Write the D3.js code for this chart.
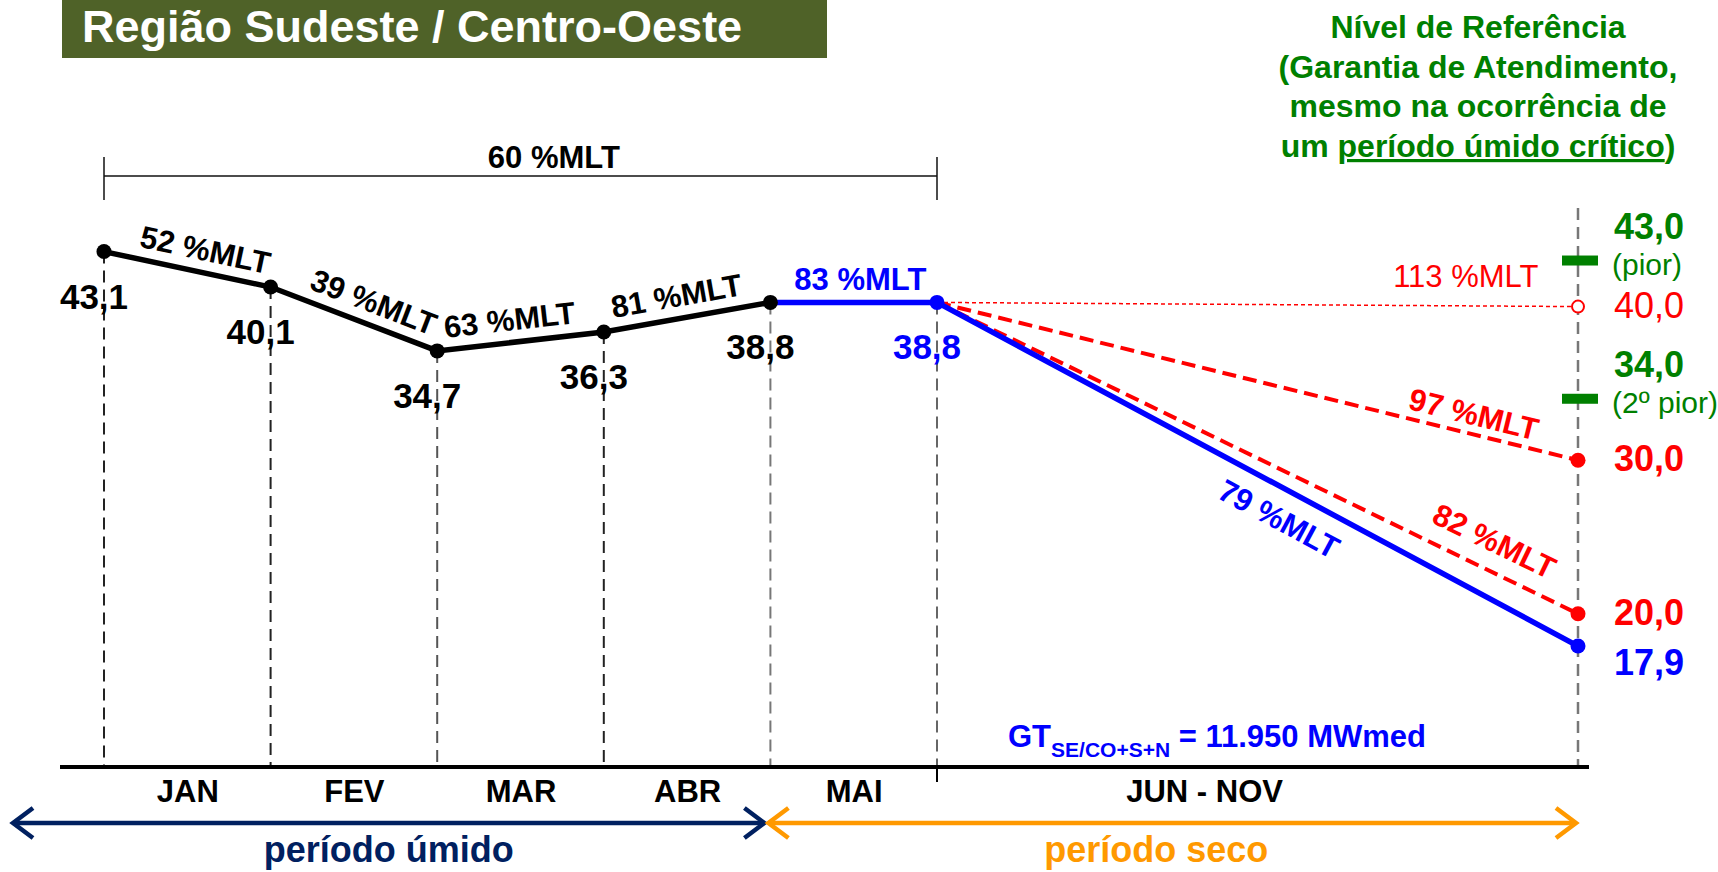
<!DOCTYPE html>
<html>
<head>
<meta charset="utf-8">
<script src="https://cdn.jsdelivr.net/npm/d3@7"></script>
<style>
  body { margin: 0; background: #fff; }
  svg { display: block; font-family: "Liberation Sans", Arial, sans-serif; }
</style>
</head>
<body>
<script>
// Armazenamento SE/CO (% EARmax)
const months = ["JAN", "FEV", "MAR", "ABR", "MAI", "JUN - NOV"];
const monthPos = [0.5, 1.5, 2.5, 3.5, 4.5, 7.5];   // where each month label sits
const boundary = [0, 1, 2, 3, 4, 5];                // month index: start JAN ... end MAI
const storage = [43.1, 40.1, 34.7, 36.3, 38.8, 38.8];
const segmentMLT = [52, 39, 63, 81, 83];            // inflow in each month
const periodMLT = 60;                               // JAN - MAI

const endIndex = 11;                                // end of NOV
const dryMLT = [113, 97, 82];
const dryEnd = [40.0, 30.0, 20.0];
const gtMLT = 79;
const gtEnd = 17.9;
const gtMW = 11950;

const refLevel = [43.0, 34.0];
const refName = ["(pior)", "(2º pior)"];

const W = 1718, H = 872;
const red = "#ff0000", blue = "#0000ff", green = "#008000", navy = "#002060", orange = "#ff9900";

const pt = d3.formatLocale({ decimal: ",", thousands: ".", grouping: [3], currency: ["R$", ""] });
const fmt1 = pt.format(".1f");
const fmtInt = pt.format(",");

const svg = d3.select("body")
    .append("svg")
    .attr("width", W)
    .attr("height", H);

// Scales (the original is a sketch: wet months and dry-season ends use their own vertical scale)
const x = d3.scaleLinear().domain([0, 5, endIndex]).range([104, 937, 1578]);
const yWet = d3.scaleLinear().domain([30, 45]).range([406.5, 229.1]);
const yDry = d3.scaleLinear().domain([15, 45]).range([690.6, 229.8]);
const axisY = 767;

const pts = storage.map((v, i) => [x(boundary[i]), yWet(v)]);
const start = pts[pts.length - 1];
const xEnd = x(endIndex);

// Title box
svg.append("rect")
    .attr("x", 62).attr("y", -2)
    .attr("width", 765).attr("height", 60)
    .style("fill", "#4f6228");
svg.append("text")
    .attr("x", 82).attr("y", 42)
    .style("font-size", "45px").style("font-weight", "bold")
    .style("fill", "#fff")
    .text("Região Sudeste / Centro-Oeste");

// Reference level note
const note = svg.append("text")
    .attr("text-anchor", "middle")
    .style("font-size", "32px").style("font-weight", "bold")
    .style("fill", green);
["Nível de Referência", "(Garantia de Atendimento,", "mesmo na ocorrência de"].forEach((s, i) => {
    note.append("tspan").attr("x", 1478).attr("y", 38 + i * 39.7).text(s);
});
const last = note.append("tspan").attr("x", 1478).attr("y", 157);
last.append("tspan").text("um ");
last.append("tspan").style("text-decoration", "underline").text("período úmido crítico");
last.append("tspan").text(")");

// Wet-period bracket
const by = 176;
svg.append("line")
    .attr("x1", x(0)).attr("x2", x(5)).attr("y1", by).attr("y2", by)
    .style("stroke", "#111").style("stroke-width", 1.5);
[0, 5].forEach(i => {
    svg.append("line")
        .attr("x1", x(i)).attr("x2", x(i)).attr("y1", by - 19).attr("y2", by + 24)
        .style("stroke", "#111").style("stroke-width", 1.5);
});
svg.append("text")
    .attr("x", x(2.7)).attr("y", 168)
    .attr("text-anchor", "middle")
    .style("font-size", "31px").style("font-weight", "bold")
    .text(`${periodMLT} %MLT`);

// Vertical dashed guides
const guideColor = ["#222", "#222", "#555", "#222", "#777", "#666"];
pts.forEach((p, i) => {
    svg.append("line")
        .attr("x1", p[0]).attr("x2", p[0]).attr("y1", p[1]).attr("y2", axisY)
        .style("stroke", guideColor[i]).style("stroke-width", 2)
        .style("stroke-dasharray", "12,7");
});
svg.append("line")
    .attr("x1", xEnd).attr("x2", xEnd).attr("y1", 208).attr("y2", axisY)
    .style("stroke", "#777").style("stroke-width", 2.5)
    .style("stroke-dasharray", "12,7");

// Baseline and month labels
svg.append("line")
    .attr("x1", 60).attr("x2", 1589).attr("y1", axisY).attr("y2", axisY)
    .style("stroke", "#000").style("stroke-width", 4);
svg.append("line")
    .attr("x1", x(5)).attr("x2", x(5)).attr("y1", axisY).attr("y2", axisY + 15)
    .style("stroke", "#000").style("stroke-width", 2);

const xAxis = svg.append("g")
    .attr("transform", `translate(0,${axisY})`)
    .call(d3.axisBottom(x).tickValues(monthPos).tickFormat((d, i) => months[i]).tickSize(0).tickPadding(13));
xAxis.select(".domain").remove();
xAxis.selectAll("text")
    .style("font-family", "Liberation Sans, Arial, sans-serif")
    .style("font-size", "31px").style("font-weight", "bold").style("fill", "#000");

// Dry-season scenarios (red)
const line = d3.line();
dryEnd.forEach((v, i) => {
    svg.append("path")
        .attr("d", line([start, [xEnd, yDry(v)]]))
        .style("fill", "none").style("stroke", red)
        .style("stroke-width", i === 0 ? 1.5 : 4)
        .style("stroke-dasharray", i === 0 ? "4,3" : "14,7");
});

// Observed wet-period storage (black) and the MAI + GT path (blue)
svg.append("path")
    .attr("d", line(pts.slice(0, 5)))
    .style("fill", "none").style("stroke", "#000").style("stroke-width", 5.5);
svg.append("path")
    .attr("d", line([pts[4], start, [xEnd, yDry(gtEnd)]]))
    .style("fill", "none").style("stroke", blue).style("stroke-width", 5.5)
    .style("stroke-linejoin", "round");

// Dots
svg.selectAll(".dot-wet")
    .data(pts.slice(0, 5))
    .enter()
    .append("circle")
    .attr("cx", d => d[0]).attr("cy", d => d[1]).attr("r", 7.5)
    .style("fill", "#000");
[start, [xEnd, yDry(gtEnd)]].forEach(p => {
    svg.append("circle").attr("cx", p[0]).attr("cy", p[1]).attr("r", 7.5).style("fill", blue);
});
dryEnd.forEach((v, i) => {
    svg.append("circle")
        .attr("cx", xEnd).attr("cy", yDry(v)).attr("r", i === 0 ? 6 : 7.5)
        .style("fill", i === 0 ? "#fff" : red)
        .style("stroke", red).style("stroke-width", i === 0 ? 2 : 0);
});

// Reference levels (green)
refLevel.forEach((v, i) => {
    svg.append("rect")
        .attr("x", xEnd - 16).attr("y", yDry(v) - 5)
        .attr("width", 36).attr("height", 10)
        .style("fill", green);
    svg.append("text")
        .attr("x", 1649).attr("y", yDry(v) - 22)
        .attr("text-anchor", "middle")
        .style("font-size", "36px").style("font-weight", "bold").style("fill", green)
        .text(fmt1(v));
    svg.append("text")
        .attr("x", 1612).attr("y", yDry(v) + 14)
        .style("font-size", "30px").style("fill", green)
        .text(refName[i]);
});

// Segment labels along the lines
function segLabel(p0, p1, t, off, txt, color, weight, rotate) {
    const ang = rotate ? Math.atan2(p1[1] - p0[1], p1[0] - p0[0]) * 180 / Math.PI : 0;
    const px = p0[0] + t * (p1[0] - p0[0]);
    const py = p0[1] + t * (p1[1] - p0[1]);
    svg.append("text")
        .attr("transform", `translate(${px},${py}) rotate(${ang})`)
        .attr("y", off)
        .attr("text-anchor", "middle")
        .style("font-size", "31px").style("font-weight", weight)
        .style("fill", color)
        .text(txt);
}

const wetT = [0.58, 0.57, 0.45, 0.46, 0.54];
segmentMLT.forEach((m, i) => {
    segLabel(pts[i], pts[i + 1], wetT[i], -12, `${m} %MLT`, i === 4 ? blue : "#000", "bold", true);
});

const dryT = [0.825, 0.83, 0.85];
const dryOff = [-19, -9, -18];
dryMLT.forEach((m, i) => {
    segLabel(start, [xEnd, yDry(dryEnd[i])], dryT[i], dryOff[i], `${m} %MLT`, red,
        i === 0 ? "normal" : "bold", i !== 0);
});
segLabel(start, [xEnd, yDry(gtEnd)], 0.555, 40, `${gtMLT} %MLT`, blue, "bold", true);

// Storage values
pts.forEach((p, i) => {
    svg.append("text")
        .attr("x", p[0] - 10).attr("y", p[1] + 57)
        .attr("text-anchor", "middle")
        .style("font-size", "35px").style("font-weight", "bold")
        .style("fill", i === 5 ? blue : "#000")
        .text(fmt1(storage[i]));
});

// End-of-November values
dryEnd.forEach((v, i) => {
    svg.append("text")
        .attr("x", 1649).attr("y", yDry(v) + 11)
        .attr("text-anchor", "middle")
        .style("font-size", "36px").style("font-weight", i === 0 ? "normal" : "bold")
        .style("fill", red)
        .text(fmt1(v));
});
svg.append("text")
    .attr("x", 1649).attr("y", yDry(gtEnd) + 29)
    .attr("text-anchor", "middle")
    .style("font-size", "36px").style("font-weight", "bold").style("fill", blue)
    .text(fmt1(gtEnd));

// Thermal generation note
const gt = svg.append("text")
    .attr("x", 1008).attr("y", 747)
    .style("font-size", "31px").style("font-weight", "bold").style("fill", blue);
gt.append("tspan").text("GT");
gt.append("tspan").attr("dy", 10).style("font-size", "21px").text("SE/CO+S+N");
gt.append("tspan").attr("dy", -10).text(` = ${fmtInt(gtMW)} MWmed`);

// Period arrows
function arrow(x0, x1, y, color, label, shift) {
    svg.append("line")
        .attr("x1", x0 + 2).attr("x2", x1 - 2).attr("y1", y).attr("y2", y)
        .style("stroke", color).style("stroke-width", 4.5);
    svg.append("path")
        .attr("d", `M${x0 + 20},${y - 15}L${x0},${y}L${x0 + 20},${y + 15}`)
        .style("fill", "none").style("stroke", color).style("stroke-width", 4.5);
    svg.append("path")
        .attr("d", `M${x1 - 20},${y - 15}L${x1},${y}L${x1 - 20},${y + 15}`)
        .style("fill", "none").style("stroke", color).style("stroke-width", 4.5);
    svg.append("text")
        .attr("x", (x0 + x1) / 2 + shift).attr("y", 862)
        .attr("text-anchor", "middle")
        .style("font-size", "36px").style("font-weight", "bold").style("fill", color)
        .text(label);
}
arrow(13, x(4) - 6, 823, navy, "período úmido", 0);
arrow(x(4) - 2, xEnd - 2, 823, orange, "período seco", -16);
</script>
</body>
</html>
